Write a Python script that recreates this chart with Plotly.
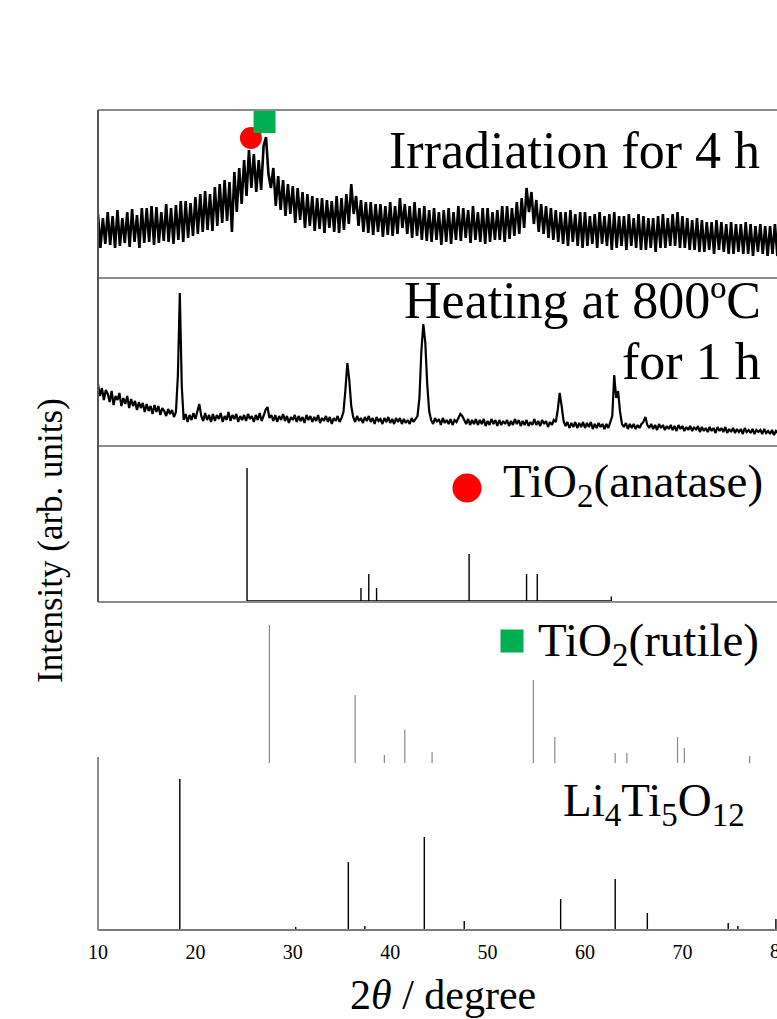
import numpy as np
import plotly.graph_objects as go

# ---------------- data ----------------
# x grids (2theta, degree)
tt_irr = np.round(np.arange(10.0, 80.0001, 0.25), 2)
tt_heat = np.round(np.arange(10.0, 80.0001, 0.2), 2)

# Irradiation for 4 h (arb. units), 0.25 deg step
irr = [
    64, 30, 60, 34,  66, 33, 62, 30,  68, 32, 60, 35,  66, 31, 69, 36,
    63, 30, 70, 35,  70, 36, 72, 33,  71, 35, 66, 37,  74, 36, 70, 34,
    73, 38, 77, 36,  77, 40, 75, 42,  81, 44, 84, 46,  87, 48, 84, 47,
    91, 52, 94, 55,  98, 57, 96, 46,  106, 66, 110, 74,  118, 82, 128, 90,
    124, 86, 118, 88,  132, 141, 104, 90,  110, 72, 102, 68,  98, 62, 94, 64,
    92, 55, 90, 58,  86, 50, 84, 52,  82, 47, 80, 49,  80, 45, 78, 50,
    77, 46, 82, 45,  80, 48, 84, 54,  94, 64, 82, 52,  78, 46, 76, 45,
    76, 43, 74, 46,  74, 41, 72, 43,  76, 42, 72, 44,  80, 50, 74, 44,
    72, 40, 76, 42,  70, 38, 72, 37,  68, 36, 70, 38,  66, 33, 68, 36,
    70, 34, 66, 38,  72, 37, 70, 40,  68, 35, 72, 38,  66, 36, 70, 34,
    70, 36, 66, 38,  68, 38, 72, 36,  72, 39, 70, 42,  76, 44, 80, 50,
    90, 66, 86, 54,  78, 46, 74, 44,  72, 40, 70, 38,  68, 36, 66, 34,
    66, 32, 68, 36,  64, 32, 66, 30,  66, 32, 62, 34,  64, 30, 66, 34,
    62, 32, 64, 28,  66, 30, 62, 32,  62, 28, 64, 32,  60, 30, 64, 28,
    62, 28, 60, 30,  60, 26, 62, 30,  64, 30, 60, 32,  64, 32, 66, 30,
    62, 30, 60, 28,  58, 28, 60, 26,  58, 26, 56, 28,  56, 24, 58, 28,
    56, 26, 54, 24,  56, 24, 54, 26,  54, 24, 56, 24,  54, 22, 52, 26,
    54, 24, 52, 22,  52, 24, 54, 22,
    40,
]

# Heating at 800 C for 1 h (arb. units), 0.2 deg step
heat = [
    62, 50, 58, 46, 56,  52, 44, 55, 41, 50,  46, 53, 40, 48, 42,  50, 38, 47, 40, 45,
    36, 44, 38, 43, 34,  42, 35, 40, 32, 41,  34, 40, 31, 38, 35,  30, 37, 32, 36, 29,
    34, 70, 153, 60, 26,  32, 24, 31, 26, 33,  27, 34, 42, 30, 25,  33, 26, 31, 24, 32,
    25, 31, 27, 33, 24,  30, 26, 34, 25, 31,  27, 32, 24, 30, 26,  31, 25, 32, 27, 30,
    24, 31, 26, 33, 25,  30, 36, 39, 28, 31,  25, 31, 24, 30, 26,  32, 25, 30, 23, 29,
    26, 31, 24, 30, 25,  29, 23, 31, 26, 30,  24, 29, 25, 31, 23,  28, 25, 30, 24, 29,
    22, 28, 25, 30, 24,  28, 34, 56, 83, 66,  40, 29, 24, 30, 25,  28, 23, 29, 25, 30,
    24, 28, 22, 29, 25,  27, 22, 28, 24, 29,  23, 27, 22, 28, 24,  28, 22, 27, 23, 26,
    22, 28, 24, 27, 30,  48, 95, 122, 104, 62,  35, 26, 22, 28, 24,  27, 21, 28, 23, 26,
    22, 27, 21, 26, 24,  28, 32, 30, 26, 22,  27, 21, 26, 22, 27,  21, 26, 22, 27, 20,
    25, 21, 27, 22, 26,  20, 26, 21, 25, 22,  26, 20, 25, 21, 27,  22, 26, 20, 25, 21,
    26, 20, 24, 21, 27,  21, 25, 20, 26, 22,  25, 19, 24, 21, 26,  24, 36, 53, 40, 25,
    20, 24, 18, 23, 19,  24, 18, 23, 19, 24,  18, 23, 19, 24, 17,  22, 18, 23, 19, 22,
    17, 22, 18, 23, 30,  71, 48, 55, 34, 22,  19, 23, 17, 22, 18,  22, 17, 21, 18, 22,
    24, 29, 21, 18, 22,  17, 21, 16, 22, 18,  21, 16, 20, 17, 21,  16, 20, 15, 21, 17,
    20, 15, 19, 16, 20,  15, 19, 16, 20, 14,  19, 15, 18, 14, 19,  15, 18, 13, 19, 15,
    18, 14, 19, 13, 17,  14, 18, 13, 17, 14,  17, 12, 18, 14, 16,  13, 17, 12, 16, 14,
    16, 12, 17, 13, 15,  12, 16, 11, 15, 13,
    14,
]

# Reference patterns (stick positions / relative intensities)
anatase_pos = [25.3, 37.0, 37.8, 38.6, 48.1, 54.0, 55.1, 62.7]
anatase_int = [133, 13, 27, 13, 47, 27, 27, 4.5]

rutile_pos = [27.6, 36.4, 39.4, 41.5, 44.3, 54.7, 56.9, 63.1, 64.3, 69.5, 70.2, 76.9]
rutile_int = [138, 68, 8, 33, 11, 83, 26, 10, 10, 26, 15, 7]

lto_pos = [18.4, 30.3, 35.7, 37.4, 43.5, 47.6, 57.5, 63.1, 66.4, 74.7, 75.7, 79.6]
lto_int = [151, 3, 68, 4, 93, 9, 31, 51, 17, 7, 4, 11]

# Phase markers in the irradiated pattern
irr_mark_anatase = (25.7, 140)
irr_mark_rutile = (27.1, 156)

x_ticks = [10, 20, 30, 40, 50, 60, 70, 80]

# ---------------- layout constants ----------------
W, H = 777, 1019
ML, MR, MT, MB = 98, 0, 110, 89
PX_PER_DEG = 9.74
XMAX = 10 + (W - ML - MR) / PX_PER_DEG
PH = H - MT - MB  # plot height in px


def ypaper(py):
    return (H - MB - py) / PH


def xpaper(px):
    return (px - ML) / (W - ML - MR)


FONT = "Liberation Serif"

fig = go.Figure()

# patterns
fig.add_trace(go.Scatter(x=tt_irr, y=irr, mode="lines",
                         line=dict(color="black", width=2.6), xaxis="x", yaxis="y"))
fig.add_trace(go.Scatter(x=tt_heat, y=heat, mode="lines",
                         line=dict(color="black", width=2.2), xaxis="x", yaxis="y2"))


def sticks(pos, inten, baseline=True):
    xs, ys = [], []
    for p, v in zip(pos, inten):
        xs += [p, p, p]
        ys += [0, v, 0]
        if not baseline:
            xs.append(None)
            ys.append(None)
    return xs, ys


ax, ay = sticks(anatase_pos, anatase_int)
fig.add_trace(go.Scatter(x=ax, y=ay, mode="lines", line=dict(color="black", width=1.4),
                         xaxis="x", yaxis="y3"))
rx, ry = sticks(rutile_pos, rutile_int, baseline=False)
fig.add_trace(go.Scatter(x=rx, y=ry, mode="lines", line=dict(color="#8a8a8a", width=1.2),
                         xaxis="x", yaxis="y4"))

# markers on irradiated pattern
fig.add_trace(go.Scatter(x=[irr_mark_anatase[0]], y=[irr_mark_anatase[1]], mode="markers",
                         marker=dict(symbol="circle", size=22, color="#ff0000"),
                         xaxis="x", yaxis="y", cliponaxis=False))
fig.add_trace(go.Scatter(x=[irr_mark_rutile[0]], y=[irr_mark_rutile[1]], mode="markers",
                         marker=dict(symbol="square", size=22, color="#00b050"),
                         xaxis="x", yaxis="y", cliponaxis=False))

# legend-like symbols next to reference labels
fig.add_trace(go.Scatter(x=[10 + (467 - ML) / PX_PER_DEG], y=[113], mode="markers",
                         marker=dict(symbol="circle", size=29, color="#ff0000"),
                         xaxis="x", yaxis="y3", cliponaxis=False))
fig.add_trace(go.Scatter(x=[10 + (512 - ML) / PX_PER_DEG], y=[122], mode="markers",
                         marker=dict(symbol="square", size=23, color="#00b050"),
                         xaxis="x", yaxis="y4", cliponaxis=False))

doms = {
    "y": [ypaper(278), 1.0],
    "y2": [ypaper(446), ypaper(278)],
    "y3": [ypaper(602), ypaper(446)],
    "y4": [ypaper(763), ypaper(602)],
    "y5": [0.0, ypaper(763)],
}
ranges = {
    "y": [0, 168], "y2": [0, 168], "y3": [-1, 155], "y4": [0, 161], "y5": [0, 167],
}

layout = dict(
    width=W, height=H,
    margin=dict(l=ML, r=MR, t=MT, b=MB, pad=0),
    paper_bgcolor="white", plot_bgcolor="white",
    showlegend=False,
    font=dict(family=FONT, color="black"),
    xaxis=dict(domain=[0, 1], range=[10, XMAX], anchor="y5",
               tickvals=x_ticks[:-1], ticktext=[str(t) for t in x_ticks[:-1]],
               ticks="", showgrid=False, zeroline=False, showline=False,
               ticklabelstandoff=8,
               tickfont=dict(family=FONT, size=20, color="black")),
)
for k in ["y", "y2", "y3", "y4", "y5"]:
    name = "yaxis" if k == "y" else "yaxis" + k[1:]
    layout[name] = dict(domain=doms[k], range=ranges[k], anchor="x", visible=False,
                        showgrid=False, zeroline=False)

fig.update_layout(**layout)

# frame lines
frame = "#8c8c8c"
for py in [110, 278, 446, 602]:
    fig.add_shape(type="line", xref="paper", yref="paper", x0=0, x1=1.01,
                  y0=ypaper(py), y1=ypaper(py), line=dict(color=frame, width=2))
fig.add_shape(type="line", xref="paper", yref="paper", x0=0, x1=1.01,
              y0=0, y1=0, line=dict(color="#7a7a7a", width=2))
fig.add_shape(type="line", xref="paper", yref="paper", x0=0, x1=0,
              y0=ypaper(602), y1=1, line=dict(color="#555555", width=2))
fig.add_shape(type="line", xref="paper", yref="paper", x0=0, x1=0,
              y0=0, y1=ypaper(757), line=dict(color="#8a8a8a", width=2))

# LTO sticks drawn above the axis line
lx, ly = sticks(lto_pos, lto_int)
fig.add_trace(go.Scatter(x=lx, y=ly, mode="lines", line=dict(color="black", width=1.4),
                         xaxis="x", yaxis="y5", cliponaxis=False))


def ann(text, px, py, size, xanchor="right", yanchor="middle", angle=0):
    fig.add_annotation(text=text, xref="paper", yref="paper", x=xpaper(px), y=ypaper(py),
                       xanchor=xanchor, yanchor=yanchor, showarrow=False, textangle=angle,
                       font=dict(family=FONT, size=size, color="black"))


ann("Irradiation for 4 h", 762, 150, 52)
ann("Heating at 800ºC", 763, 300, 52)
ann("for 1 h", 763, 361, 52)
ann("TiO<sub>2</sub>(anatase)", 765, 485, 47)
ann("TiO<sub>2</sub>(rutile)", 761, 643, 47)
ann("Li<sub>4</sub>Ti<sub>5</sub>O<sub>12</sub>", 747, 803, 47)

# x label "80" (partly beyond the right edge, as in the original)
ann("80", ML + (80 - 10) * PX_PER_DEG, 951, 20, xanchor="center")
# axis titles
ann("2<i>θ</i> / degree", 443, 995, 42, xanchor="center")
ann("Intensity (arb. units)", 50, 541, 35, xanchor="center", angle=-90)

fig.write_html("out.html")
